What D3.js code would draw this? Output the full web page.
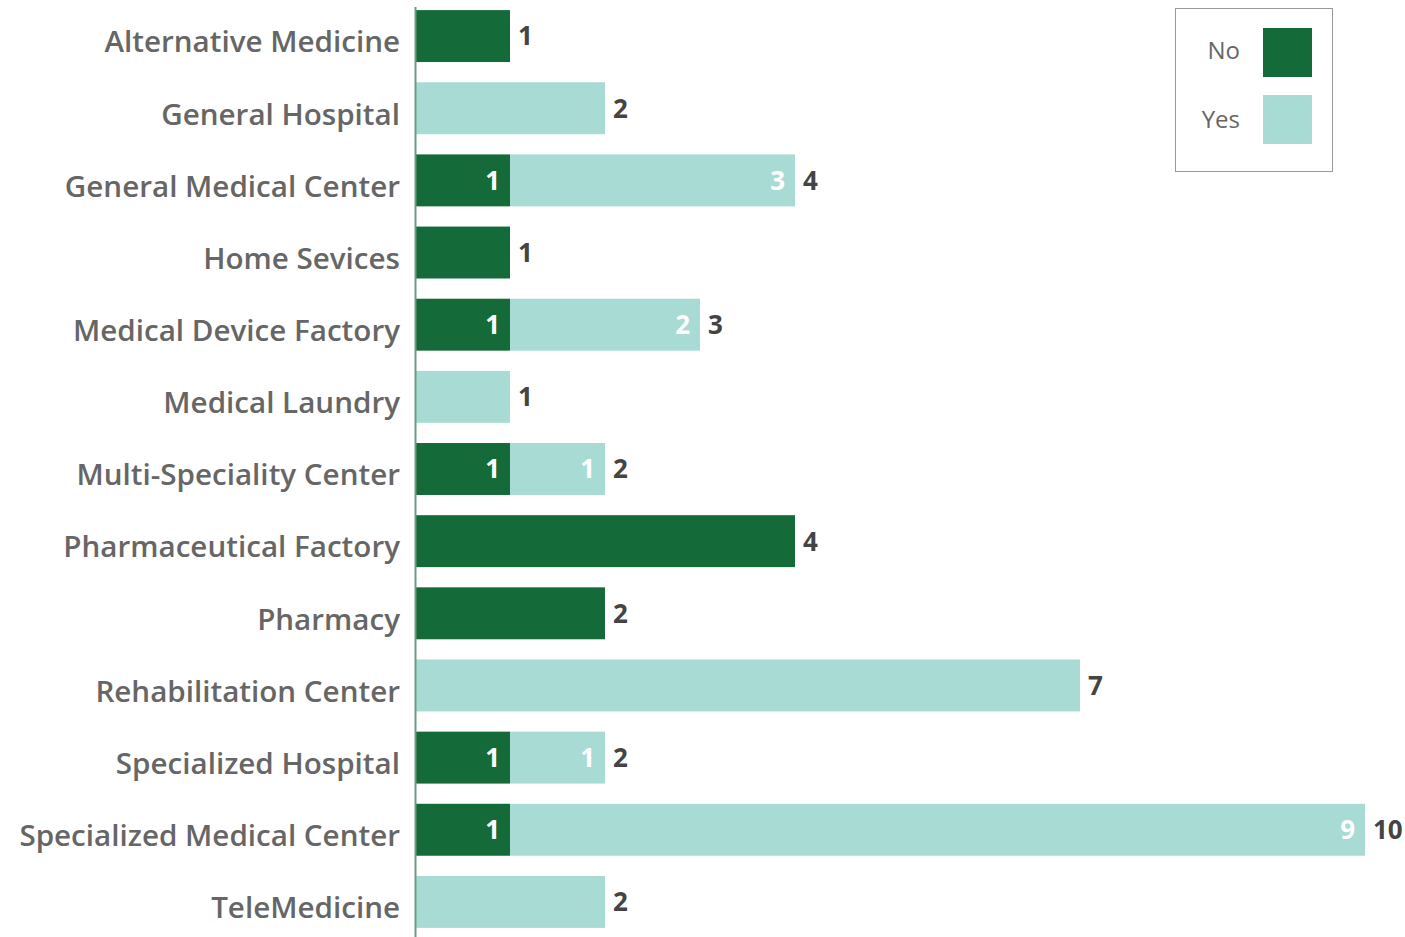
<!DOCTYPE html>
<html>
<head>
<meta charset="utf-8">
<script src="https://cdn.jsdelivr.net/npm/d3@7"></script>
<style>
  body { margin: 0; background: #fff; }
  text { font-family: "Open Sans", sans-serif; }
</style>
</head>
<body>
<script>
const width = 1405;
const height = 937;

const categories = [
  "Alternative Medicine",
  "General Hospital",
  "General Medical Center",
  "Home Sevices",
  "Medical Device Factory",
  "Medical Laundry",
  "Multi-Speciality Center",
  "Pharmaceutical Factory",
  "Pharmacy",
  "Rehabilitation Center",
  "Specialized Hospital",
  "Specialized Medical Center",
  "TeleMedicine",
];
const noValues = [1, 0, 1, 1, 1, 0, 1, 4, 2, 0, 1, 1, 0];
const yesValues = [0, 2, 3, 0, 2, 1, 1, 0, 0, 7, 1, 9, 2];
const seriesNames = ["No", "Yes"];
const colors = ["#146b39", "#a8dbd4"];

const rows = categories.map((c, i) => ({ cat: c, No: noValues[i], Yes: yesValues[i] }));
const stacked = d3.stack().keys(seriesNames)(rows);

const svg = d3
  .select("body")
  .append("svg")
  .attr("width", width)
  .attr("height", height);

const x = d3.scaleLinear().domain([0, 10]).range([415, 1365]);
const y = d3
  .scaleBand()
  .domain(categories)
  .range([0, 938])
  .paddingInner(0.28)
  .paddingOuter(0.14);

// bars
stacked.forEach((layer, k) => {
  svg
    .append("g")
    .selectAll("rect")
    .data(layer)
    .enter()
    .append("rect")
    .attr("x", (d) => x(d[0]))
    .attr("y", (d) => y(d.data.cat))
    .attr("width", (d) => x(d[1]) - x(d[0]))
    .attr("height", y.bandwidth())
    .attr("fill", colors[k]);
});

// inner labels, only when a bar has both parts
stacked.forEach((layer) => {
  svg
    .append("g")
    .selectAll("text")
    .data(layer.filter((d) => d.data.No > 0 && d.data.Yes > 0))
    .enter()
    .append("text")
    .attr("x", (d) => x(d[1]) - 10)
    .attr("y", (d) => y(d.data.cat) + y.bandwidth() / 2)
    .attr("dy", "0.36em")
    .attr("text-anchor", "end")
    .attr("fill", "#fff")
    .attr("font-size", 26)
    .attr("font-weight", "bold")
    .text((d) => d[1] - d[0]);
});

// totals
svg
  .append("g")
  .selectAll("text")
  .data(rows)
  .enter()
  .append("text")
  .attr("x", (d) => x(d.No + d.Yes) + 8)
  .attr("y", (d) => y(d.cat) + y.bandwidth() / 2)
  .attr("dy", "0.36em")
  .attr("fill", "#444")
  .attr("font-size", 26)
  .attr("font-weight", "bold")
  .text((d) => d.No + d.Yes);

// category axis
const yAxis = svg
  .append("g")
  .attr("transform", "translate(415,0)")
  .call(d3.axisLeft(y).tickSize(0).tickPadding(15));
yAxis.select(".domain").attr("d", "M0.5,7V937").attr("stroke", "#6f9c80").attr("stroke-width", 2);
yAxis
  .selectAll(".tick text")
  .attr("font-size", 29.6)
  .attr("font-weight", 600)
  .attr("fill", "#666")
  .attr("font-family", "'Open Sans', sans-serif")
  .attr("dy", "0.55em");

// legend
const legend = svg.append("g").attr("id", "legend");
legend
  .append("rect")
  .attr("x", 1175.5)
  .attr("y", 8.5)
  .attr("width", 157)
  .attr("height", 163)
  .attr("fill", "#fff")
  .attr("stroke", "#999");
seriesNames.forEach((s, i) => {
  legend
    .append("rect")
    .attr("x", 1263)
    .attr("y", 28 + i * 67)
    .attr("width", 49)
    .attr("height", 49)
    .attr("fill", colors[i]);
  legend
    .append("text")
    .attr("x", 1240)
    .attr("y", 50 + i * 69)
    .attr("dy", "0.36em")
    .attr("text-anchor", "end")
    .attr("font-size", 24)
    .attr("fill", "#666")
    .text(s);
});
</script>
</body>
</html>
